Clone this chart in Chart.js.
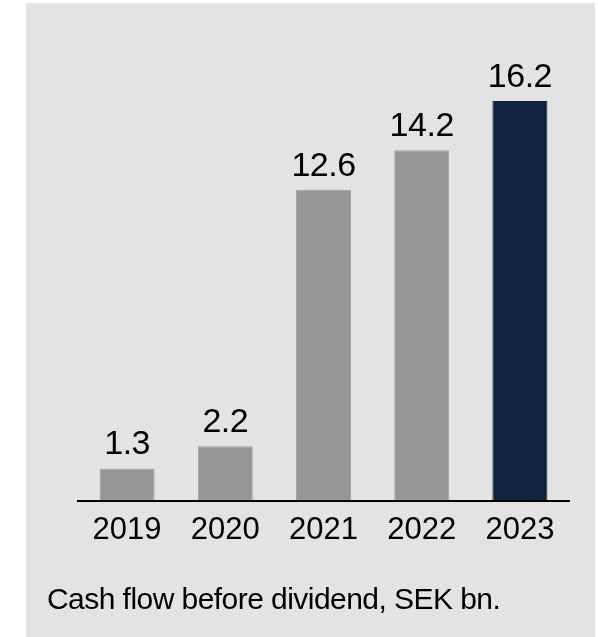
<!DOCTYPE html>
<html>
<head>
<meta charset="utf-8">
<script src="https://cdn.jsdelivr.net/npm/chart.js@4/dist/chart.umd.min.js"></script>
<style>
  html, body { margin: 0; padding: 0; background: #ffffff; }
  #panel { position: absolute; left: 26px; top: 3px; width: 569px; height: 634px; background: #e3e3e3; }
  #wrap { position: absolute; left: 0; top: 0; width: 598px; height: 637px; }
  #caption {
    position: absolute; left: 47px; top: 584px;
    font: 30px "Liberation Sans", Arial, sans-serif; line-height: 30px;
    letter-spacing: -0.55px; color: #000; white-space: nowrap;
  }
</style>
</head>
<body>
<div id="panel"></div>
<div id="wrap"><canvas id="chart" width="598" height="637"></canvas></div>
<div id="caption">Cash flow before dividend, SEK bn.</div>
<script>
var years = ["2019", "2020", "2021", "2022", "2023"];
var cashFlow = [1.3, 2.2, 12.6, 14.2, 16.2];
var barColors = ["#969696", "#969696", "#969696", "#969696", "#10233f"];

// value above each bar
var valueLabels = {
  id: "valueLabels",
  afterDatasetsDraw: function (chart) {
    var ctx = chart.ctx;
    var meta = chart.getDatasetMeta(0);
    ctx.save();
    ctx.font = '34px "Liberation Sans", Arial, sans-serif';
    ctx.letterSpacing = "-0.5px";
    ctx.fillStyle = "#000";
    ctx.textAlign = "center";
    ctx.textBaseline = "alphabetic";
    meta.data.forEach(function (bar, i) {
      ctx.fillText(cashFlow[i].toFixed(1), bar.x, bar.y - 14);
    });
    ctx.restore();
  }
};

new Chart(document.getElementById("chart"), {
  type: "bar",
  data: {
    labels: years,
    datasets: [{
      data: cashFlow,
      backgroundColor: barColors,
      borderColor: barColors.map(function (c) { return c === "#969696" ? "#a4a4a4" : c; }),
      borderWidth: 1,
      barPercentage: 0.56,
      categoryPercentage: 1
    }]
  },
  options: {
    responsive: false,
    animation: false,
    layout: { padding: { left: 78, right: 29, top: 56.5, bottom: 0 } },
    plugins: { legend: { display: false }, tooltip: { enabled: false } },
    scales: {
      x: {
        grid: { display: false },
        border: { display: true, color: "#000", width: 2 },
        ticks: {
          color: "#000",
          padding: 3,
          font: { family: '"Liberation Sans", Arial, sans-serif', size: 31 }
        },
        afterFit: function (scale) { scale.height = 136.5; }
      },
      y: {
        display: false,
        min: 0,
        max: 18
      }
    }
  },
  plugins: [valueLabels]
});
</script>
</body>
</html>
